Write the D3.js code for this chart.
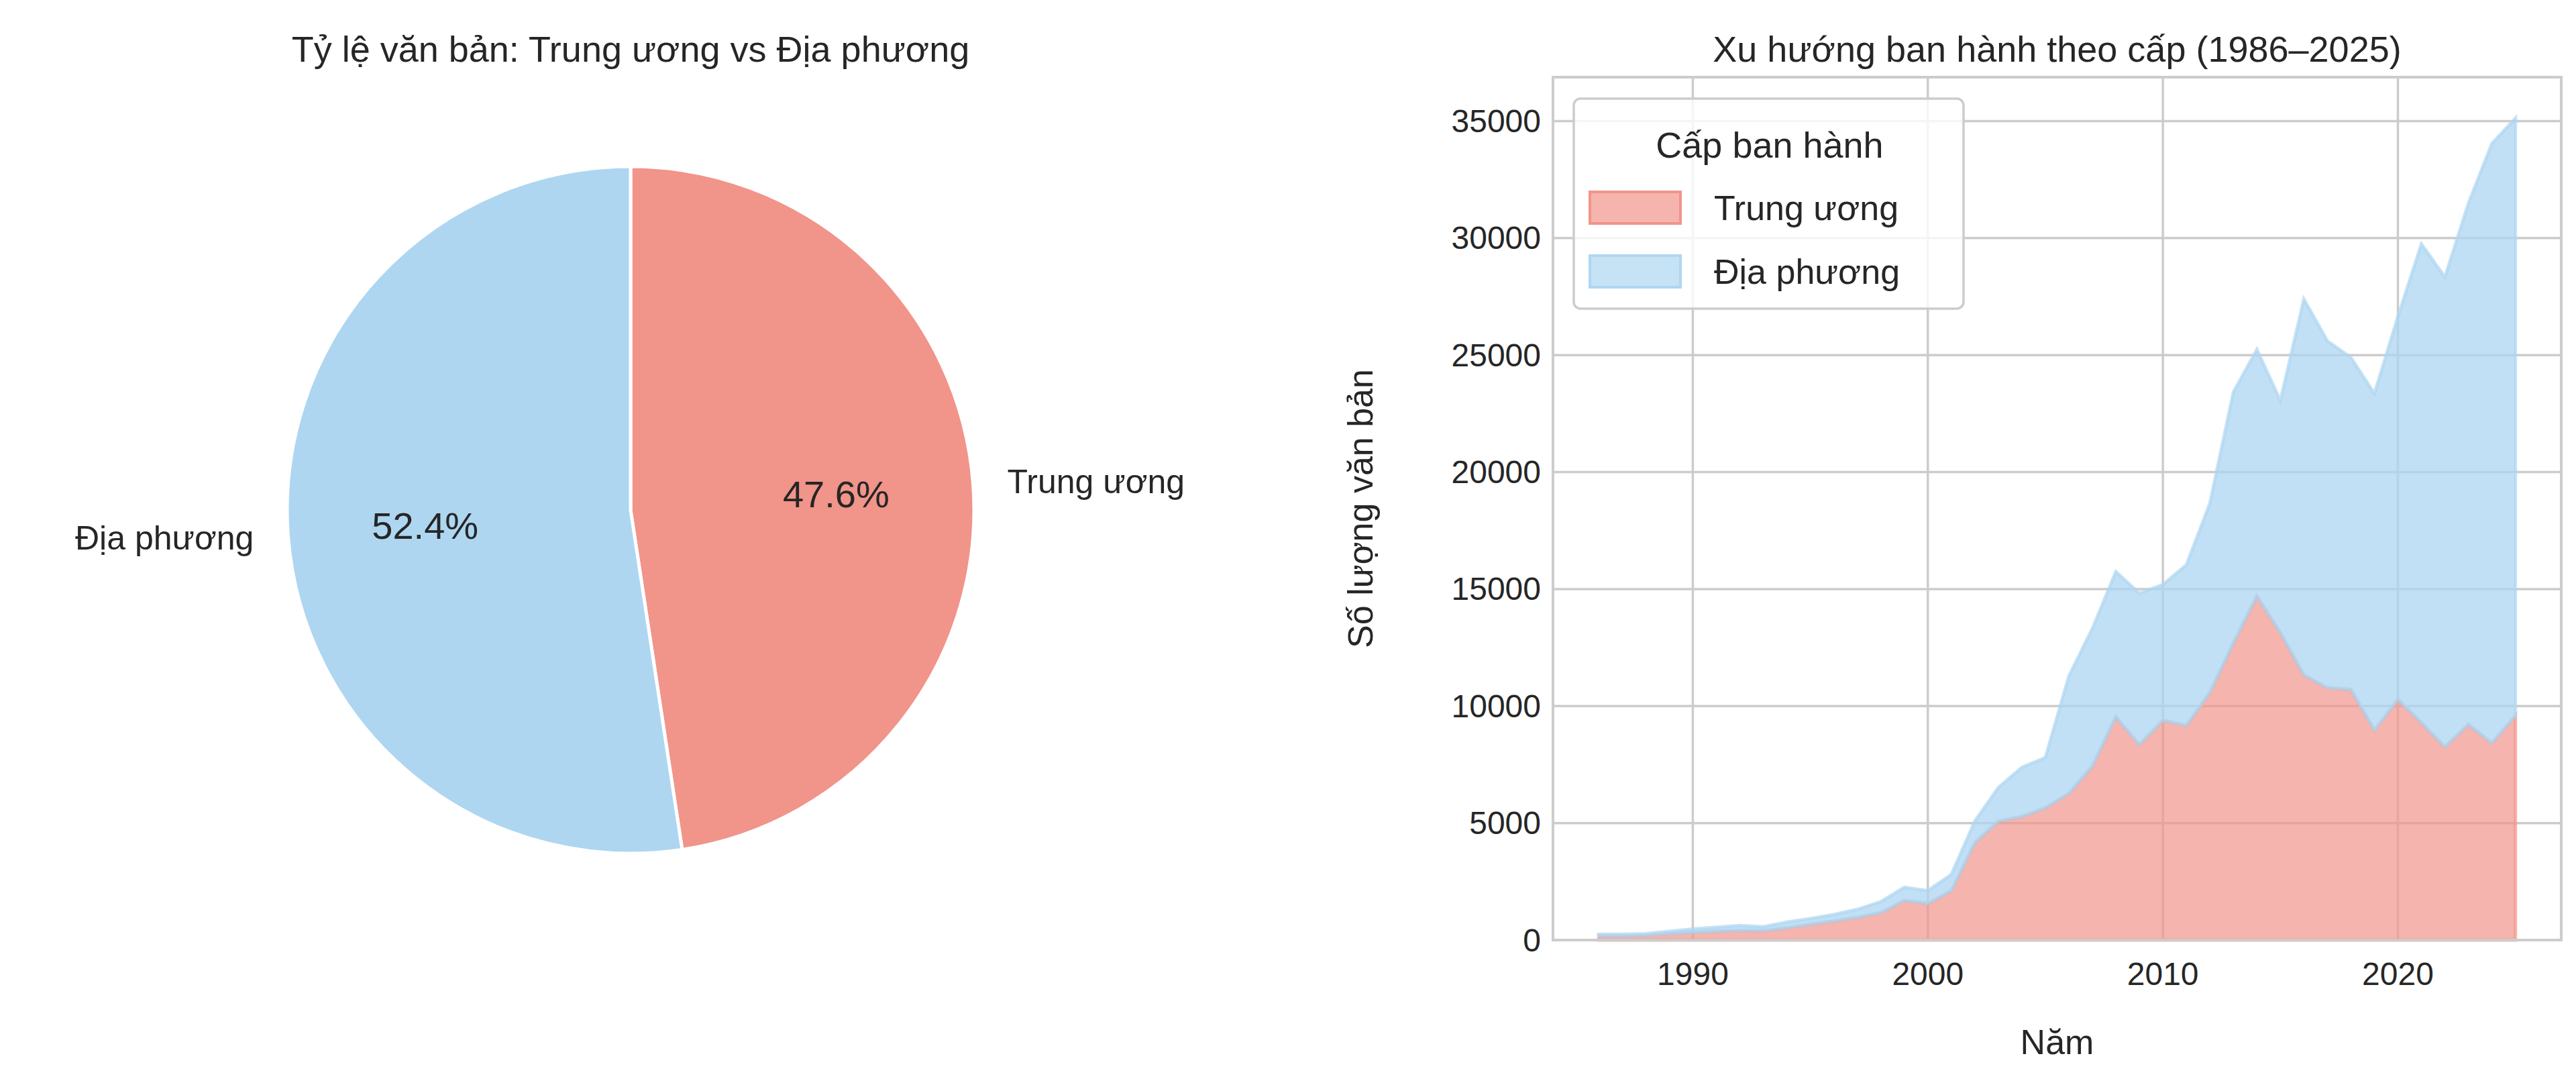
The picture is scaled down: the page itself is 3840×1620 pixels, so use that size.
<!DOCTYPE html>
<html><head><meta charset="utf-8">
<script src="https://cdn.jsdelivr.net/npm/d3@7"></script>
<style>body{margin:0;background:#fff}text{font-family:"Liberation Sans",Arial,sans-serif;fill:#262626}</style>
</head><body>
<svg id="c" width="3840" height="1620"></svg>
<script>
const pieLabels = ["Trung ương", "Địa phương"];
const pieValues = [47.6, 52.4];
const pieColors = ["#f1948a", "#aed6f1"];
const years = d3.range(1986, 2026);
const central = [170,170,200,270,320,370,400,400,520,670,820,970,1170,1690,1560,2110,4160,5080,5280,5650,6270,7430,9540,8350,9390,9170,10580,12690,14700,13140,11330,10780,10710,8970,10280,9290,8250,9220,8420,9590];
const total = [250,250,270,370,470,545,620,570,770,920,1090,1310,1640,2255,2110,2800,5080,6520,7380,7800,11280,13310,15740,14820,15190,16030,18660,23420,25230,23050,27390,25600,24900,23350,26640,29740,28330,31480,34040,35120];
const xTicks = [1990, 2000, 2010, 2020];
const yTicks = [0,5000,10000,15000,20000,25000,30000,35000];

const svg = d3.select("#c");
// Pie
const cx = 940, cy = 760, R = 512;
const pg = svg.append("g").attr("transform", `translate(${cx},${cy})`);
const pie = d3.pie().sort(null).value(d => d)(pieValues);
const arc = d3.arc().innerRadius(0).outerRadius(R);
pg.selectAll("path").data(pie).enter().append("path")
  .attr("d", arc).attr("fill", (d, i) => pieColors[i]).attr("stroke", "#fff").attr("stroke-width", 5);
const pctArc = d3.arc().innerRadius(R * 0.6).outerRadius(R * 0.6);
const lblArc = d3.arc().innerRadius(R * 1.1).outerRadius(R * 1.1);
pg.selectAll(".pct").data(pie).enter().append("text")
  .attr("x", d => pctArc.centroid(d)[0]).attr("y", d => pctArc.centroid(d)[1])
  .attr("text-anchor", "middle").attr("dominant-baseline", "central").attr("font-size", 56)
  .text((d, i) => pieValues[i].toFixed(1) + "%");
pg.selectAll(".lbl").data(pie).enter().append("text")
  .attr("x", d => lblArc.centroid(d)[0]).attr("y", d => lblArc.centroid(d)[1])
  .attr("text-anchor", d => lblArc.centroid(d)[0] > 0 ? "start" : "end")
  .attr("dominant-baseline", "central").attr("font-size", 50)
  .text((d, i) => pieLabels[i]);
svg.append("text").attr("x", cx).attr("y", 73).attr("text-anchor", "middle")
  .attr("dominant-baseline", "central").attr("font-size", 54).text("Tỷ lệ văn bản: Trung ương vs Địa phương");

// Area chart
const L = 2315, Rr = 3818, T = 115, B = 1401;
const x = d3.scaleLinear().domain([1984.05, 2026.95]).range([L, Rr]);
const y = d3.scaleLinear().domain([0, 36876]).range([B, T]);
const g = svg.append("g");
g.selectAll(".gx").data(xTicks).enter().append("line")
  .attr("x1", d => x(d)).attr("x2", d => x(d)).attr("y1", T).attr("y2", B)
  .attr("stroke", "#cccccc").attr("stroke-width", 3.5);
g.selectAll(".gy").data(yTicks).enter().append("line")
  .attr("x1", L).attr("x2", Rr).attr("y1", d => y(d)).attr("y2", d => y(d))
  .attr("stroke", "#cccccc").attr("stroke-width", 3.5);
const aRed = d3.area().x((d, i) => x(years[i])).y0(y(0)).y1(d => y(d));
const aBlue = d3.area().x((d, i) => x(years[i])).y0((d, i) => y(central[i])).y1(d => y(d));
const ln = d3.line().x((d, i) => x(years[i])).y(d => y(d));
g.append("path").attr("d", aRed(central)).attr("fill", "#f1948a").attr("fill-opacity", 0.7)
  .attr("stroke", "#f1948a").attr("stroke-opacity", 0.7).attr("stroke-width", 5);
g.append("path").attr("d", aBlue(total)).attr("fill", "#aed6f1").attr("fill-opacity", 0.75)
  .attr("stroke", "#aed6f1").attr("stroke-opacity", 0.7).attr("stroke-width", 5);
g.append("rect").attr("x", L).attr("y", T).attr("width", Rr - L).attr("height", B - T)
  .attr("fill", "none").attr("stroke", "#cccccc").attr("stroke-width", 4);
g.selectAll(".tx").data(xTicks).enter().append("text")
  .attr("x", d => x(d)).attr("y", B + 50).attr("text-anchor", "middle").attr("dominant-baseline", "central")
  .attr("font-size", 48).text(d => d);
g.selectAll(".ty").data(yTicks).enter().append("text")
  .attr("x", L - 18).attr("y", d => y(d)).attr("text-anchor", "end").attr("dominant-baseline", "central")
  .attr("font-size", 48).text(d => d);
svg.append("text").attr("x", (L + Rr) / 2).attr("y", 1553).attr("text-anchor", "middle")
  .attr("dominant-baseline", "central").attr("font-size", 52).text("Năm");
svg.append("text").attr("transform", `translate(2028,${(T + B) / 2}) rotate(-90)`).attr("text-anchor", "middle")
  .attr("dominant-baseline", "central").attr("font-size", 52).text("Số lượng văn bản");
svg.append("text").attr("x", (L + Rr) / 2).attr("y", 73).attr("text-anchor", "middle")
  .attr("dominant-baseline", "central").attr("font-size", 54).text("Xu hướng ban hành theo cấp (1986–2025)");
// legend
const lg = svg.append("g");
lg.append("rect").attr("x", 2346).attr("y", 147).attr("width", 581).attr("height", 313).attr("rx", 10)
  .attr("fill", "#fff").attr("fill-opacity", 0.8).attr("stroke", "#cccccc").attr("stroke-width", 3.5);
lg.append("text").attr("x", 2638).attr("y", 216).attr("text-anchor", "middle").attr("dominant-baseline", "central")
  .attr("font-size", 54).text("Cấp ban hành");
[["Trung ương", "#f1948a", 286], ["Địa phương", "#aed6f1", 381]].forEach(([t, c, yy]) => {
  lg.append("rect").attr("x", 2370).attr("y", yy).attr("width", 135).attr("height", 47)
    .attr("fill", c).attr("fill-opacity", 0.7).attr("stroke", c).attr("stroke-width", 4);
  lg.append("text").attr("x", 2555).attr("y", yy + 24).attr("dominant-baseline", "central")
    .attr("font-size", 52).text(t);
});
</script></body></html>
